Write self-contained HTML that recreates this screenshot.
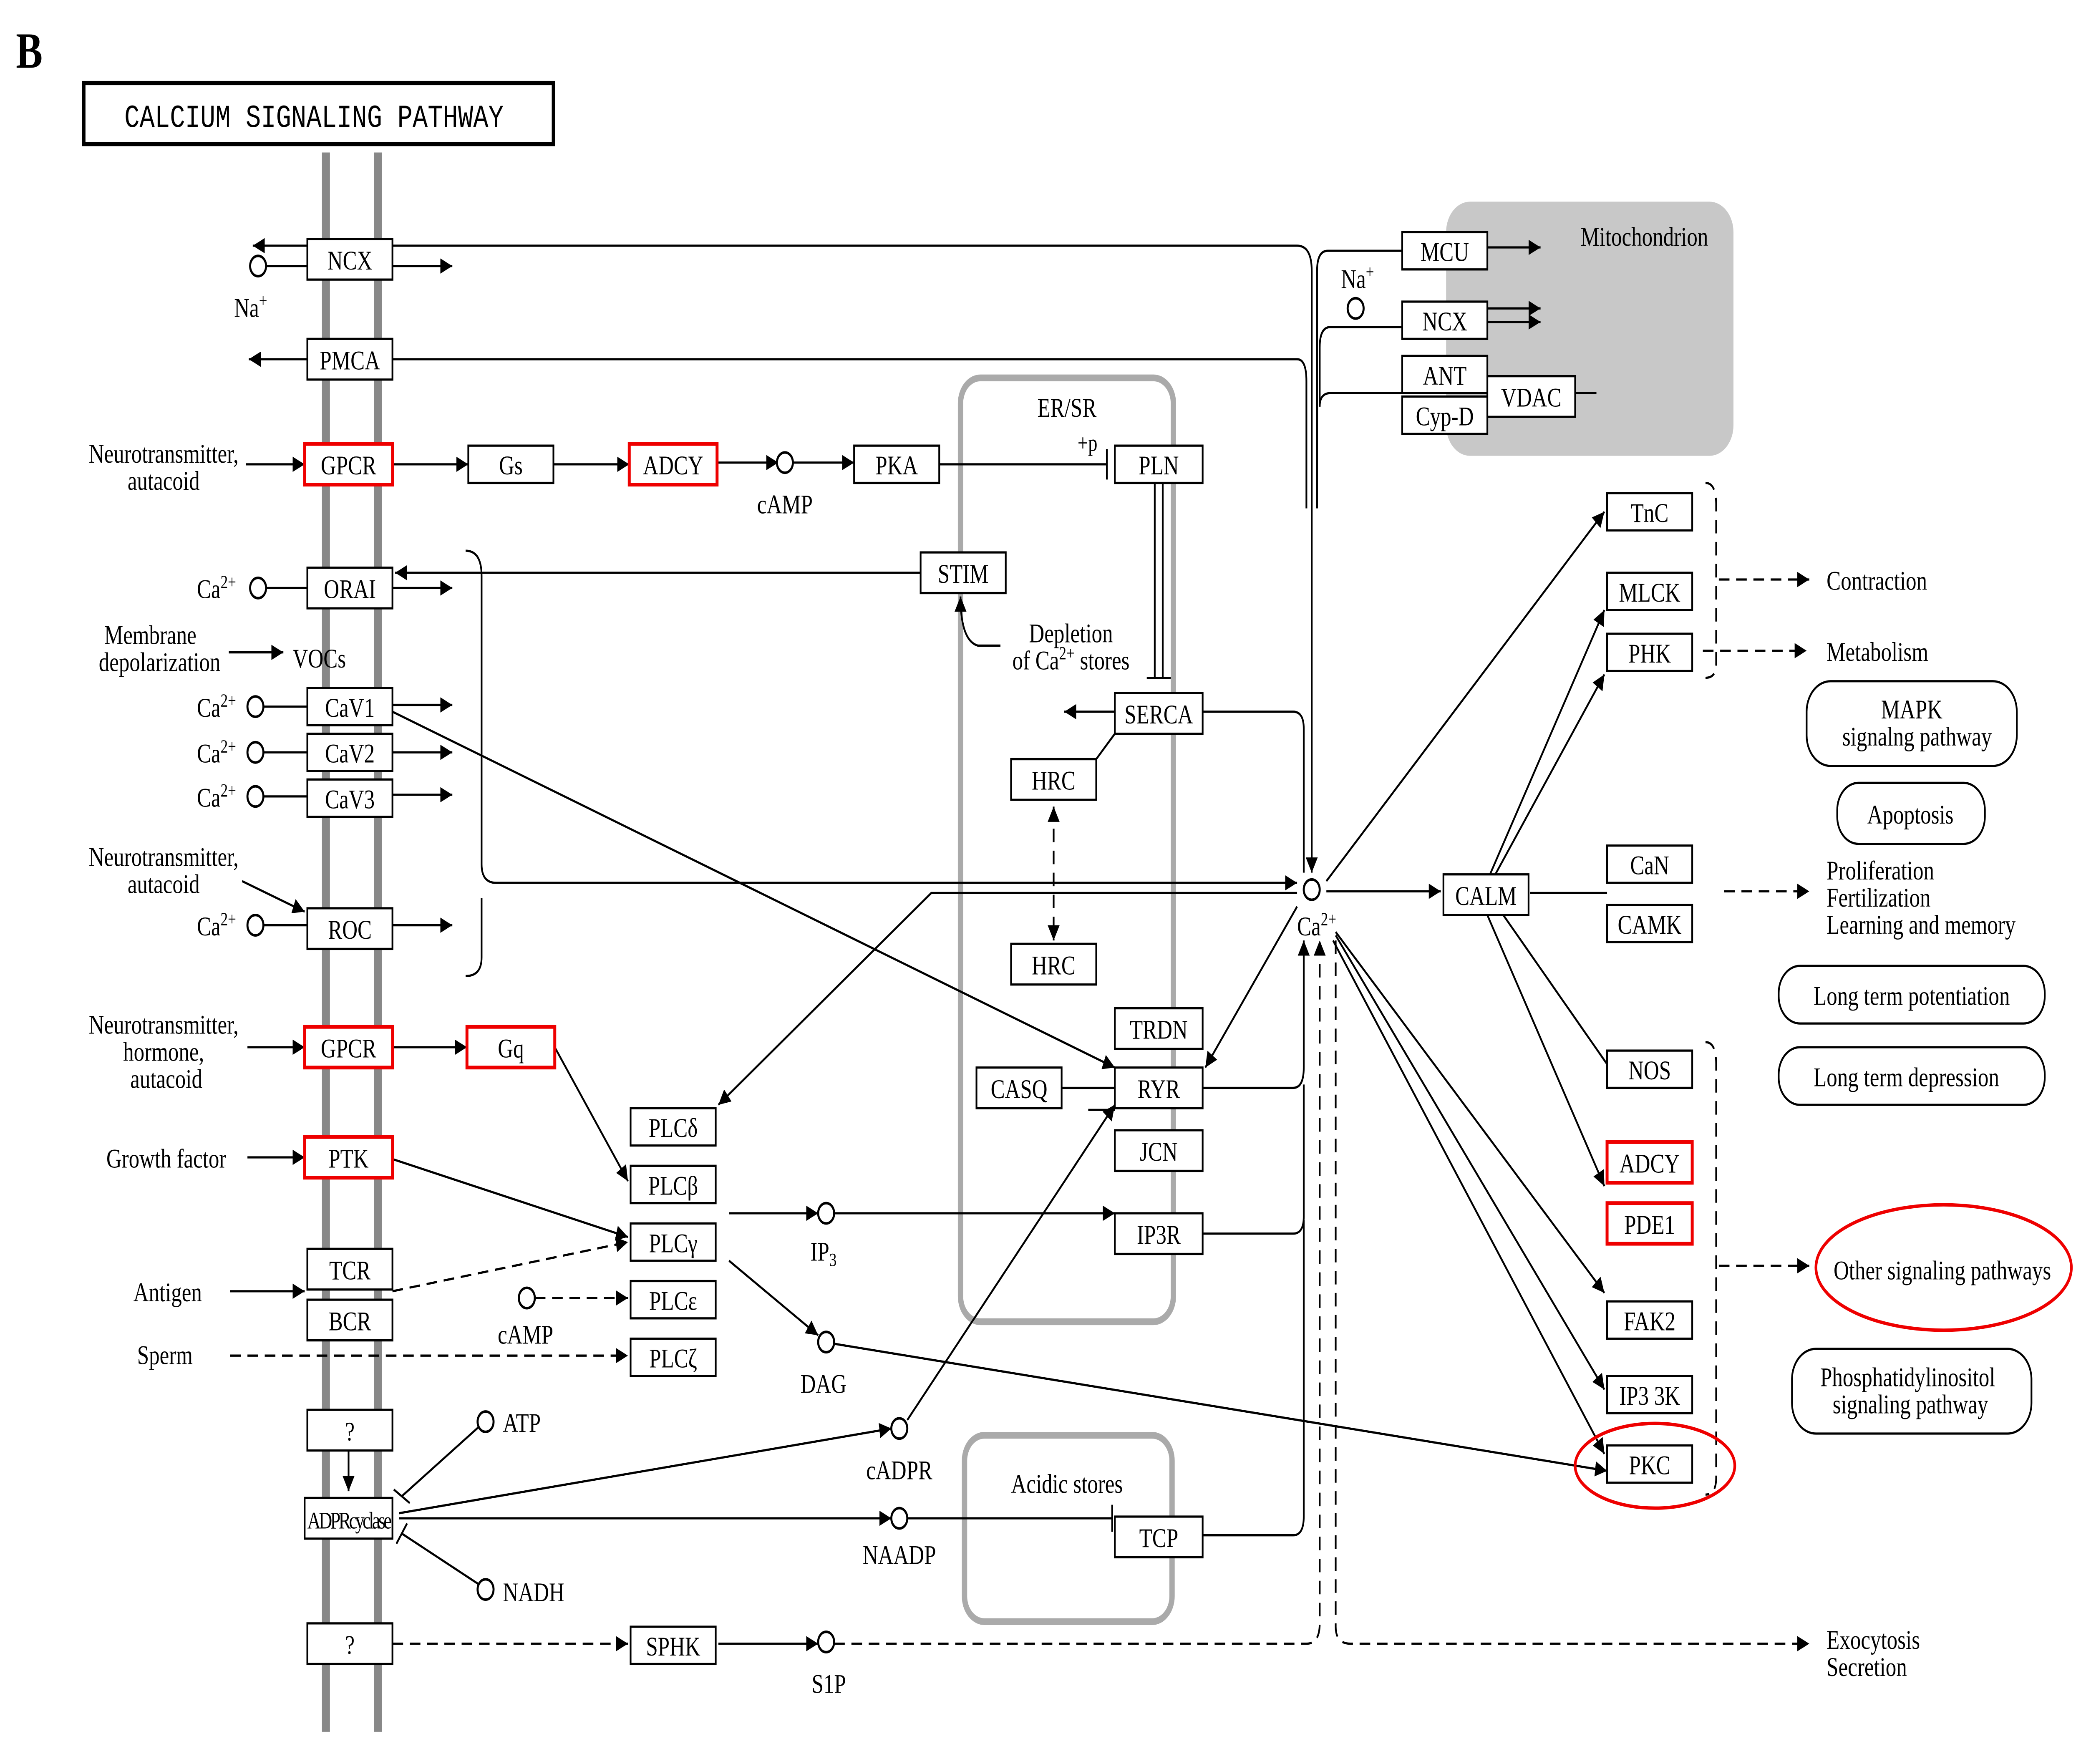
<!DOCTYPE html>
<html><head><meta charset="utf-8"><style>
html,body{margin:0;padding:0;background:#fff;overflow:hidden;width:100%;height:100%}
svg{display:block;width:100vw;height:100vh}
text{font-family:"Liberation Serif",serif;font-size:16px;fill:#000}
.b rect{fill:#fff;stroke:#000;stroke-width:1.3}
.r{stroke:#e00!important;stroke-width:2.2!important}
.l{fill:none;stroke:#000;stroke-width:1.3}
.d{fill:none;stroke:#000;stroke-width:1.3;stroke-dasharray:8 5}
.c{fill:#fff;stroke:#000;stroke-width:1.5}
</style></head><body>
<svg viewBox="0 0 1568 1041" preserveAspectRatio="none" xmlns="http://www.w3.org/2000/svg">
<defs><marker id="a" viewBox="0 0 10 10" refX="10" refY="5" markerWidth="9" markerHeight="9" orient="auto" markerUnits="userSpaceOnUse"><path d="M0,0L10,5L0,10z" fill="#000"/></marker>
<marker id="a2" viewBox="0 0 10 10" refX="0" refY="5" markerWidth="9" markerHeight="9" orient="auto" markerUnits="userSpaceOnUse"><path d="M10,0L0,5L10,10z" fill="#000"/></marker></defs>
<rect width="1568" height="1041" fill="#fff"/>
<text x="12" y="40" style="font-size:30px;font-weight:bold">B</text>
<rect x="63" y="49" width="353" height="36" fill="#fff" stroke="#000" stroke-width="2.5"/>
<text x="236" y="75" text-anchor="middle" style="font-size:19px;font-family:'Liberation Mono',monospace">CALCIUM SIGNALING PATHWAY</text>
<line x1="245" y1="90" x2="245" y2="1022" stroke="#888" stroke-width="6"/>
<line x1="284" y1="90" x2="284" y2="1022" stroke="#888" stroke-width="6"/>
<rect x="1087" y="119" width="216" height="150" rx="18" fill="#c8c8c8"/>
<text x="1236" y="145" text-anchor="middle">Mitochondrion</text>
<rect x="722" y="223" width="160" height="557" rx="15" fill="none" stroke="#aaa" stroke-width="4"/>
<text x="802" y="246" text-anchor="middle">ER/SR</text>
<rect x="725" y="847" width="156" height="110" rx="15" fill="none" stroke="#aaa" stroke-width="4"/>
<text x="802" y="881" text-anchor="middle">Acidic stores</text>
<g class="l">
<path d="M295,145H975Q986,145 986,160V515" marker-end="url(#a)"/>
<path d="M295,212H975Q982,212 982,225V300"/>
<path d="M1054,148H998Q990,148 990,160V300"/>
<path d="M1054,193H1000Q992,193 992,205V240"/>
<path d="M1054,232H1000Q992,232 992,240"/>
<line x1="231" y1="145" x2="190" y2="145" marker-end="url(#a)"/>
<line x1="295" y1="157" x2="340" y2="157" marker-end="url(#a)"/>
<line x1="200" y1="157" x2="231" y2="157"/>
<line x1="231" y1="212" x2="187" y2="212" marker-end="url(#a)"/>
<line x1="1118" y1="146" x2="1158" y2="146" marker-end="url(#a)"/>
<line x1="1118" y1="182" x2="1158" y2="182" marker-end="url(#a)"/>
<line x1="1118" y1="190" x2="1158" y2="190" marker-end="url(#a)"/>
<line x1="1184" y1="232" x2="1200" y2="232"/>
<line x1="185" y1="274" x2="229" y2="274" marker-end="url(#a)"/>
<line x1="295" y1="274" x2="352" y2="274" marker-end="url(#a)"/>
<line x1="416" y1="274" x2="473" y2="274" marker-end="url(#a)"/>
<line x1="539" y1="273" x2="585" y2="273" marker-end="url(#a)"/>
<line x1="596" y1="273" x2="642" y2="273" marker-end="url(#a)"/>
<line x1="706" y1="274" x2="832" y2="274"/><line x1="832" y1="265" x2="832" y2="283"/>
<line x1="692" y1="338" x2="297" y2="338" marker-end="url(#a)"/>
<line x1="295" y1="347" x2="340" y2="347" marker-end="url(#a)"/>
<line x1="200" y1="347" x2="231" y2="347"/>
<path d="M350,325Q362,325 362,340V510Q362,521 373,521H975" marker-end="url(#a)"/>
<path d="M362,530V565Q362,576 350,576"/>
<line x1="172" y1="385" x2="213" y2="385" marker-end="url(#a)"/>
<line x1="295" y1="416" x2="340" y2="416" marker-end="url(#a)"/>
<line x1="295" y1="444" x2="340" y2="444" marker-end="url(#a)"/>
<line x1="295" y1="469" x2="340" y2="469" marker-end="url(#a)"/>
<line x1="198" y1="417" x2="231" y2="417"/><line x1="198" y1="444" x2="231" y2="444"/><line x1="198" y1="470" x2="231" y2="470"/><line x1="198" y1="546" x2="231" y2="546"/>
<line x1="295" y1="420" x2="838" y2="630" marker-end="url(#a)"/>
<line x1="295" y1="546" x2="340" y2="546" marker-end="url(#a)"/>
<line x1="182" y1="520" x2="229" y2="538" marker-end="url(#a)"/>
<line x1="186" y1="618" x2="229" y2="618" marker-end="url(#a)"/>
<line x1="295" y1="618" x2="351" y2="618" marker-end="url(#a)"/>
<line x1="417" y1="618" x2="472" y2="697" marker-end="url(#a)"/>
<line x1="186" y1="683" x2="229" y2="683" marker-end="url(#a)"/>
<line x1="295" y1="684" x2="472" y2="730" marker-end="url(#a)"/>
<line x1="173" y1="762" x2="229" y2="762" marker-end="url(#a)"/>
<line x1="548" y1="716" x2="615" y2="716" marker-end="url(#a)"/>
<line x1="627" y1="716" x2="838" y2="716" marker-end="url(#a)"/>
<line x1="548" y1="744" x2="615" y2="788" marker-end="url(#a)"/>
<line x1="627" y1="793" x2="1208" y2="868" marker-end="url(#a)"/>
<path d="M975,527H700L540,652" marker-end="url(#a)"/>
<path d="M752,381H735Q722,378 722,352" marker-end="url(#a)"/>
<line x1="868" y1="285" x2="868" y2="400"/><line x1="874" y1="285" x2="874" y2="400"/><line x1="862" y1="400" x2="880" y2="400"/>
<line x1="838" y1="420" x2="800" y2="420" marker-end="url(#a)"/>
<path d="M904,420H972Q980,420 980,430V515"/>
<line x1="838" y1="433" x2="824" y2="448"/>
<line x1="798" y1="642" x2="838" y2="642"/>
<line x1="818" y1="655" x2="838" y2="655"/>
<line x1="975" y1="535" x2="906" y2="630" marker-end="url(#a)"/>
<path d="M904,642H972Q980,642 980,630V555" marker-end="url(#a)"/>
<path d="M904,728H972Q980,728 980,718V640"/>
<path d="M904,906H972Q980,906 980,895V720"/>
<line x1="682" y1="838" x2="838" y2="652" marker-end="url(#a)"/>
<line x1="300" y1="893" x2="670" y2="843" marker-end="url(#a)"/>
<line x1="300" y1="896" x2="670" y2="896" marker-end="url(#a)"/>
<line x1="682" y1="896" x2="836" y2="896"/><line x1="836" y1="888" x2="836" y2="904"/>
<line x1="360" y1="842" x2="302" y2="883"/><line x1="296" y1="879" x2="308" y2="887"/>
<line x1="360" y1="935" x2="302" y2="905"/><line x1="298" y1="911" x2="306" y2="899"/>
<line x1="262" y1="856" x2="262" y2="880" marker-end="url(#a)"/>
<line x1="540" y1="970" x2="615" y2="970" marker-end="url(#a)"/>
<line x1="997" y1="526" x2="1083" y2="526" marker-end="url(#a)"/>
<line x1="997" y1="520" x2="1206" y2="302" marker-end="url(#a)"/>
<line x1="1120" y1="516" x2="1206" y2="360" marker-end="url(#a)"/>
<line x1="1124" y1="516" x2="1206" y2="398" marker-end="url(#a)"/>
<line x1="1150" y1="527" x2="1208" y2="527"/>
<line x1="1118" y1="540" x2="1206" y2="700" marker-end="url(#a)"/>
<line x1="1130" y1="540" x2="1208" y2="628"/>
<line x1="1004" y1="550" x2="1206" y2="763" marker-end="url(#a)"/>
<line x1="1004" y1="552" x2="1206" y2="820" marker-end="url(#a)"/>
<line x1="1002" y1="555" x2="1206" y2="858" marker-end="url(#a)"/>
</g>
<g class="d">
<line x1="295" y1="762" x2="472" y2="733" marker-end="url(#a)"/>
<line x1="402" y1="766" x2="472" y2="766" marker-end="url(#a)"/>
<line x1="173" y1="800" x2="472" y2="800" marker-end="url(#a)"/>
<line x1="295" y1="970" x2="472" y2="970" marker-end="url(#a)"/>
<path d="M627,970H982Q992,970 992,958V555" marker-end="url(#a)"/>
<path d="M1004,555V960Q1004,970 1015,970H1360" marker-end="url(#a)"/>
<line x1="792" y1="476" x2="792" y2="555" marker-end="url(#a)" marker-start="url(#a2)"/>
<path d="M1282,285Q1290,285 1290,298V392Q1290,400 1282,400"/>
<line x1="1292" y1="342" x2="1360" y2="342" marker-end="url(#a)"/>
<line x1="1280" y1="384" x2="1358" y2="384" marker-end="url(#a)"/>
<line x1="1296" y1="526" x2="1360" y2="526" marker-end="url(#a)"/>
<path d="M1282,615Q1290,615 1290,628V872Q1290,882 1282,882"/>
<line x1="1292" y1="747" x2="1360" y2="747" marker-end="url(#a)"/>
</g>
<g class="b">
<rect x="231" y="141" width="64" height="24"/><rect x="231" y="200" width="64" height="24"/>
<rect x="229" y="262" width="66" height="24" class="r"/><rect x="231" y="335" width="64" height="24"/>
<rect x="231" y="406" width="64" height="22"/><rect x="231" y="433" width="64" height="22"/><rect x="231" y="460" width="64" height="22"/>
<rect x="231" y="536" width="64" height="24"/><rect x="229" y="606" width="66" height="24" class="r"/>
<rect x="229" y="671" width="66" height="24" class="r"/><rect x="231" y="737" width="64" height="24"/><rect x="231" y="767" width="64" height="24"/>
<rect x="231" y="832" width="64" height="24"/><rect x="229" y="884" width="66" height="24"/><rect x="231" y="958" width="64" height="24"/>
<rect x="352" y="263" width="64" height="22"/><rect x="473" y="262" width="66" height="24" class="r"/><rect x="642" y="263" width="64" height="22"/>
<rect x="838" y="263" width="66" height="22"/><rect x="692" y="326" width="64" height="24"/><rect x="838" y="409" width="66" height="24"/>
<rect x="760" y="448" width="64" height="24"/><rect x="760" y="557" width="64" height="24"/><rect x="838" y="595" width="66" height="24"/>
<rect x="734" y="630" width="64" height="24"/><rect x="838" y="630" width="66" height="24"/><rect x="838" y="667" width="66" height="24"/>
<rect x="838" y="716" width="66" height="24"/><rect x="838" y="895" width="66" height="24"/>
<rect x="351" y="606" width="66" height="24" class="r"/>
<rect x="474" y="654" width="64" height="22"/><rect x="474" y="688" width="64" height="22"/><rect x="474" y="722" width="64" height="22"/>
<rect x="474" y="756" width="64" height="22"/><rect x="474" y="790" width="64" height="22"/><rect x="474" y="960" width="64" height="22"/>
<rect x="1054" y="137" width="64" height="22"/><rect x="1054" y="178" width="64" height="22"/><rect x="1054" y="210" width="64" height="22"/>
<rect x="1054" y="234" width="64" height="22"/><rect x="1118" y="222" width="66" height="24"/>
<rect x="1085" y="516" width="64" height="24"/>
<rect x="1208" y="291" width="64" height="22"/><rect x="1208" y="338" width="64" height="22"/><rect x="1208" y="374" width="64" height="22"/>
<rect x="1208" y="499" width="64" height="22"/><rect x="1208" y="534" width="64" height="22"/><rect x="1208" y="620" width="64" height="22"/>
<rect x="1208" y="674" width="64" height="24" class="r"/><rect x="1208" y="710" width="64" height="24" class="r"/>
<rect x="1208" y="768" width="64" height="22"/><rect x="1208" y="812" width="64" height="22"/><rect x="1208" y="853" width="64" height="22"/>
</g>
<g fill="#fff" stroke="#000" stroke-width="1.3">
<rect x="1358" y="402" width="158" height="50" rx="18"/><rect x="1381" y="462" width="111" height="36" rx="16"/>
<rect x="1337" y="570" width="200" height="34" rx="16"/><rect x="1337" y="618" width="200" height="34" rx="16"/>
<rect x="1347" y="796" width="180" height="50" rx="18"/>
</g>
<ellipse cx="1461" cy="748" rx="96" ry="37" fill="none" stroke="#e00" stroke-width="2"/>
<ellipse cx="1244" cy="865" rx="60" ry="25" fill="none" stroke="#e00" stroke-width="2"/>
<g class="c">
<circle cx="986" cy="525" r="6"/><circle cx="590" cy="273" r="6"/><circle cx="621" cy="716" r="6"/><circle cx="621" cy="792" r="6"/>
<circle cx="676" cy="843" r="6"/><circle cx="676" cy="896" r="6"/><circle cx="621" cy="969" r="6"/><circle cx="365" cy="839" r="6"/>
<circle cx="365" cy="938" r="6"/><circle cx="396" cy="766" r="6"/><circle cx="194" cy="157" r="6"/><circle cx="1019" cy="182" r="6"/>
<circle cx="194" cy="347" r="6"/><circle cx="192" cy="417" r="6"/><circle cx="192" cy="444" r="6"/><circle cx="192" cy="470" r="6"/><circle cx="192" cy="546" r="6"/>
</g>
<g text-anchor="middle">
<text x="263" y="159">NCX</text><text x="263" y="218">PMCA</text><text x="262" y="280">GPCR</text><text x="263" y="353">ORAI</text>
<text x="263" y="423">CaV1</text><text x="263" y="450">CaV2</text><text x="263" y="477">CaV3</text><text x="263" y="554">ROC</text>
<text x="262" y="624">GPCR</text><text x="262" y="689">PTK</text><text x="263" y="755">TCR</text><text x="263" y="785">BCR</text>
<text x="263" y="850">?</text><text x="262" y="902" style="font-size:14px;letter-spacing:-1.5px">ADPRcyclase</text><text x="263" y="976">?</text>
<text x="384" y="280">Gs</text><text x="506" y="280">ADCY</text><text x="674" y="280">PKA</text><text x="871" y="280">PLN</text>
<text x="724" y="344">STIM</text><text x="871" y="427">SERCA</text><text x="792" y="466">HRC</text><text x="792" y="575">HRC</text>
<text x="871" y="613">TRDN</text><text x="766" y="648">CASQ</text><text x="871" y="648">RYR</text><text x="871" y="685">JCN</text>
<text x="871" y="734">IP3R</text><text x="871" y="913">TCP</text><text x="384" y="624">Gq</text>
<text x="506" y="671">PLCδ</text><text x="506" y="705">PLCβ</text><text x="506" y="739">PLCγ</text><text x="506" y="773">PLCε</text><text x="506" y="807">PLCζ</text>
<text x="506" y="977">SPHK</text>
<text x="1086" y="154">MCU</text><text x="1086" y="195">NCX</text><text x="1086" y="227">ANT</text><text x="1086" y="251">Cyp-D</text><text x="1151" y="240">VDAC</text>
<text x="1117" y="534">CALM</text><text x="1240" y="308">TnC</text><text x="1240" y="355">MLCK</text><text x="1240" y="391">PHK</text>
<text x="1240" y="516">CaN</text><text x="1240" y="551">CAMK</text><text x="1240" y="637">NOS</text><text x="1240" y="692">ADCY</text><text x="1240" y="728">PDE1</text>
<text x="1240" y="785">FAK2</text><text x="1240" y="829">IP3 3K</text><text x="1240" y="870">PKC</text>
<text x="1437" y="424">MAPK</text><text x="1441" y="440">signalng pathway</text><text x="1436" y="486">Apoptosis</text>
<text x="1437" y="593">Long term potentiation</text><text x="1433" y="641">Long term depression</text>
<text x="1434" y="818">Phosphatidylinositol</text><text x="1436" y="834">signaling pathway</text>
<text x="1460" y="755">Other signaling pathways</text>
<text x="123" y="273">Neurotransmitter,</text><text x="123" y="289">autacoid</text>
<text x="113" y="380">Membrane</text><text x="120" y="396">depolarization</text>
<text x="123" y="511">Neurotransmitter,</text><text x="123" y="527">autacoid</text>
<text x="123" y="610">Neurotransmitter,</text><text x="123" y="626">hormone,</text><text x="125" y="642">autacoid</text>
<text x="125" y="689">Growth factor</text><text x="126" y="768">Antigen</text><text x="124" y="805">Sperm</text>
<text x="590" y="303">cAMP</text><text x="395" y="793">cAMP</text><text x="619" y="744">IP<tspan style="font-size:11px" dy="3">3</tspan></text>
<text x="619" y="822">DAG</text><text x="676" y="873">cADPR</text><text x="676" y="923">NAADP</text><text x="623" y="999">S1P</text>
<text x="805" y="379">Depletion</text><text x="805" y="395">of Ca<tspan style="font-size:11px" dy="-6">2+</tspan><tspan dy="6"> stores</tspan></text>
</g>
<text x="220" y="394">VOCs</text>
<text x="810" y="266" style="font-size:14px">+p</text>
<text x="378" y="845">ATP</text><text x="378" y="945">NADH</text>
<text x="176" y="187">Na<tspan style="font-size:11px" dy="-6">+</tspan></text>
<text x="1008" y="170">Na<tspan style="font-size:11px" dy="-6">+</tspan></text>
<g><text x="148" y="353">Ca<tspan style="font-size:11px" dy="-6">2+</tspan></text>
<text x="148" y="423">Ca<tspan style="font-size:11px" dy="-6">2+</tspan></text>
<text x="148" y="450">Ca<tspan style="font-size:11px" dy="-6">2+</tspan></text>
<text x="148" y="476">Ca<tspan style="font-size:11px" dy="-6">2+</tspan></text>
<text x="148" y="552">Ca<tspan style="font-size:11px" dy="-6">2+</tspan></text>
<text x="975" y="552">Ca<tspan style="font-size:11px" dy="-6">2+</tspan></text></g>
<text x="1373" y="348">Contraction</text><text x="1373" y="390">Metabolism</text>
<text x="1373" y="519">Proliferation</text><text x="1373" y="535">Fertilization</text><text x="1373" y="551">Learning and memory</text>
<text x="1373" y="973">Exocytosis</text><text x="1373" y="989">Secretion</text>
</svg>
</body></html>
